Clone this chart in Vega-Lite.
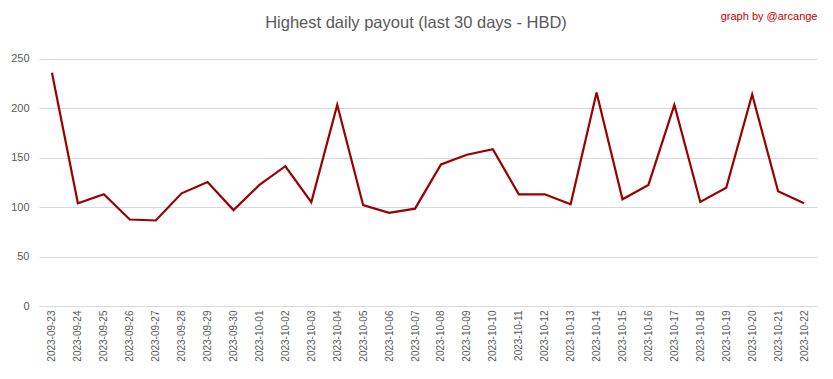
{
  "$schema": "https://vega.github.io/schema/vega-lite/v6.json",
  "width": 778,
  "height": 257,
  "autosize": "none",
  "padding": {"left": 39, "top": 49, "right": 16, "bottom": 73},
  "background": "white",
  "title": {
    "text": "Highest daily payout (last 30 days - HBD)",
    "anchor": "middle",
    "frame": "group",
    "font": "Liberation Sans",
    "fontSize": 16.5,
    "fontWeight": "normal",
    "color": "#595959",
    "offset": -21,
    "dx": -12
  },
  "config": {"view": {"stroke": null}},
  "resolve": {"axis": {"x": "independent"}},
  "data": {
    "values": [
      {"date": "2023-09-23", "value": 236},
      {"date": "2023-09-24", "value": 104},
      {"date": "2023-09-25", "value": 113},
      {"date": "2023-09-26", "value": 87.5},
      {"date": "2023-09-27", "value": 86.5},
      {"date": "2023-09-28", "value": 114},
      {"date": "2023-09-29", "value": 125.5},
      {"date": "2023-09-30", "value": 97},
      {"date": "2023-10-01", "value": 122.5},
      {"date": "2023-10-02", "value": 141.4},
      {"date": "2023-10-03", "value": 105},
      {"date": "2023-10-04", "value": 203.5},
      {"date": "2023-10-05", "value": 102},
      {"date": "2023-10-06", "value": 94.3},
      {"date": "2023-10-07", "value": 98.5},
      {"date": "2023-10-08", "value": 143.3},
      {"date": "2023-10-09", "value": 153},
      {"date": "2023-10-10", "value": 158.6},
      {"date": "2023-10-11", "value": 113},
      {"date": "2023-10-12", "value": 113},
      {"date": "2023-10-13", "value": 103},
      {"date": "2023-10-14", "value": 216},
      {"date": "2023-10-15", "value": 108},
      {"date": "2023-10-16", "value": 122.5},
      {"date": "2023-10-17", "value": 203.5},
      {"date": "2023-10-18", "value": 105.3},
      {"date": "2023-10-19", "value": 119.6},
      {"date": "2023-10-20", "value": 214},
      {"date": "2023-10-21", "value": 116},
      {"date": "2023-10-22", "value": 104}
    ]
  },
  "layer": [
    {
      "mark": {"type": "line", "color": "#990000", "strokeWidth": 2.2},
      "encoding": {
        "x": {
          "field": "date",
          "type": "ordinal",
          "scale": {"type": "point", "padding": 0.5},
          "axis": {
            "title": null,
            "labelAngle": -90,
            "labelFont": "Liberation Sans",
            "labelFontSize": 10,
            "labelColor": "#595959",
            "labelPadding": 4,
            "ticks": false,
            "domainColor": "#d9d9d9",
            "grid": false
          }
        },
        "y": {
          "field": "value",
          "type": "quantitative",
          "scale": {"domain": [0, 250]},
          "axis": {
            "title": null,
            "values": [0, 50, 100, 150, 200, 250],
            "labelFont": "Liberation Sans",
            "labelFontSize": 11,
            "labelColor": "#595959",
            "labelPadding": 10,
            "ticks": false,
            "domain": false,
            "gridColor": "#d9d9d9"
          }
        }
      }
    },
    {
      "mark": {"type": "line", "opacity": 0},
      "encoding": {
        "x": {
          "field": "date",
          "type": "ordinal",
          "axis": {
            "orient": "top",
            "labels": false,
            "ticks": false,
            "domain": false,
            "grid": false,
            "title": "graph by @arcange",
            "titleAnchor": "end",
            "titleFont": "Liberation Sans",
            "titleFontSize": 11,
            "titleFontWeight": "normal",
            "titleColor": "#c00000",
            "titlePadding": 28
          }
        },
        "y": {"field": "value", "type": "quantitative"}
      }
    }
  ]
}
